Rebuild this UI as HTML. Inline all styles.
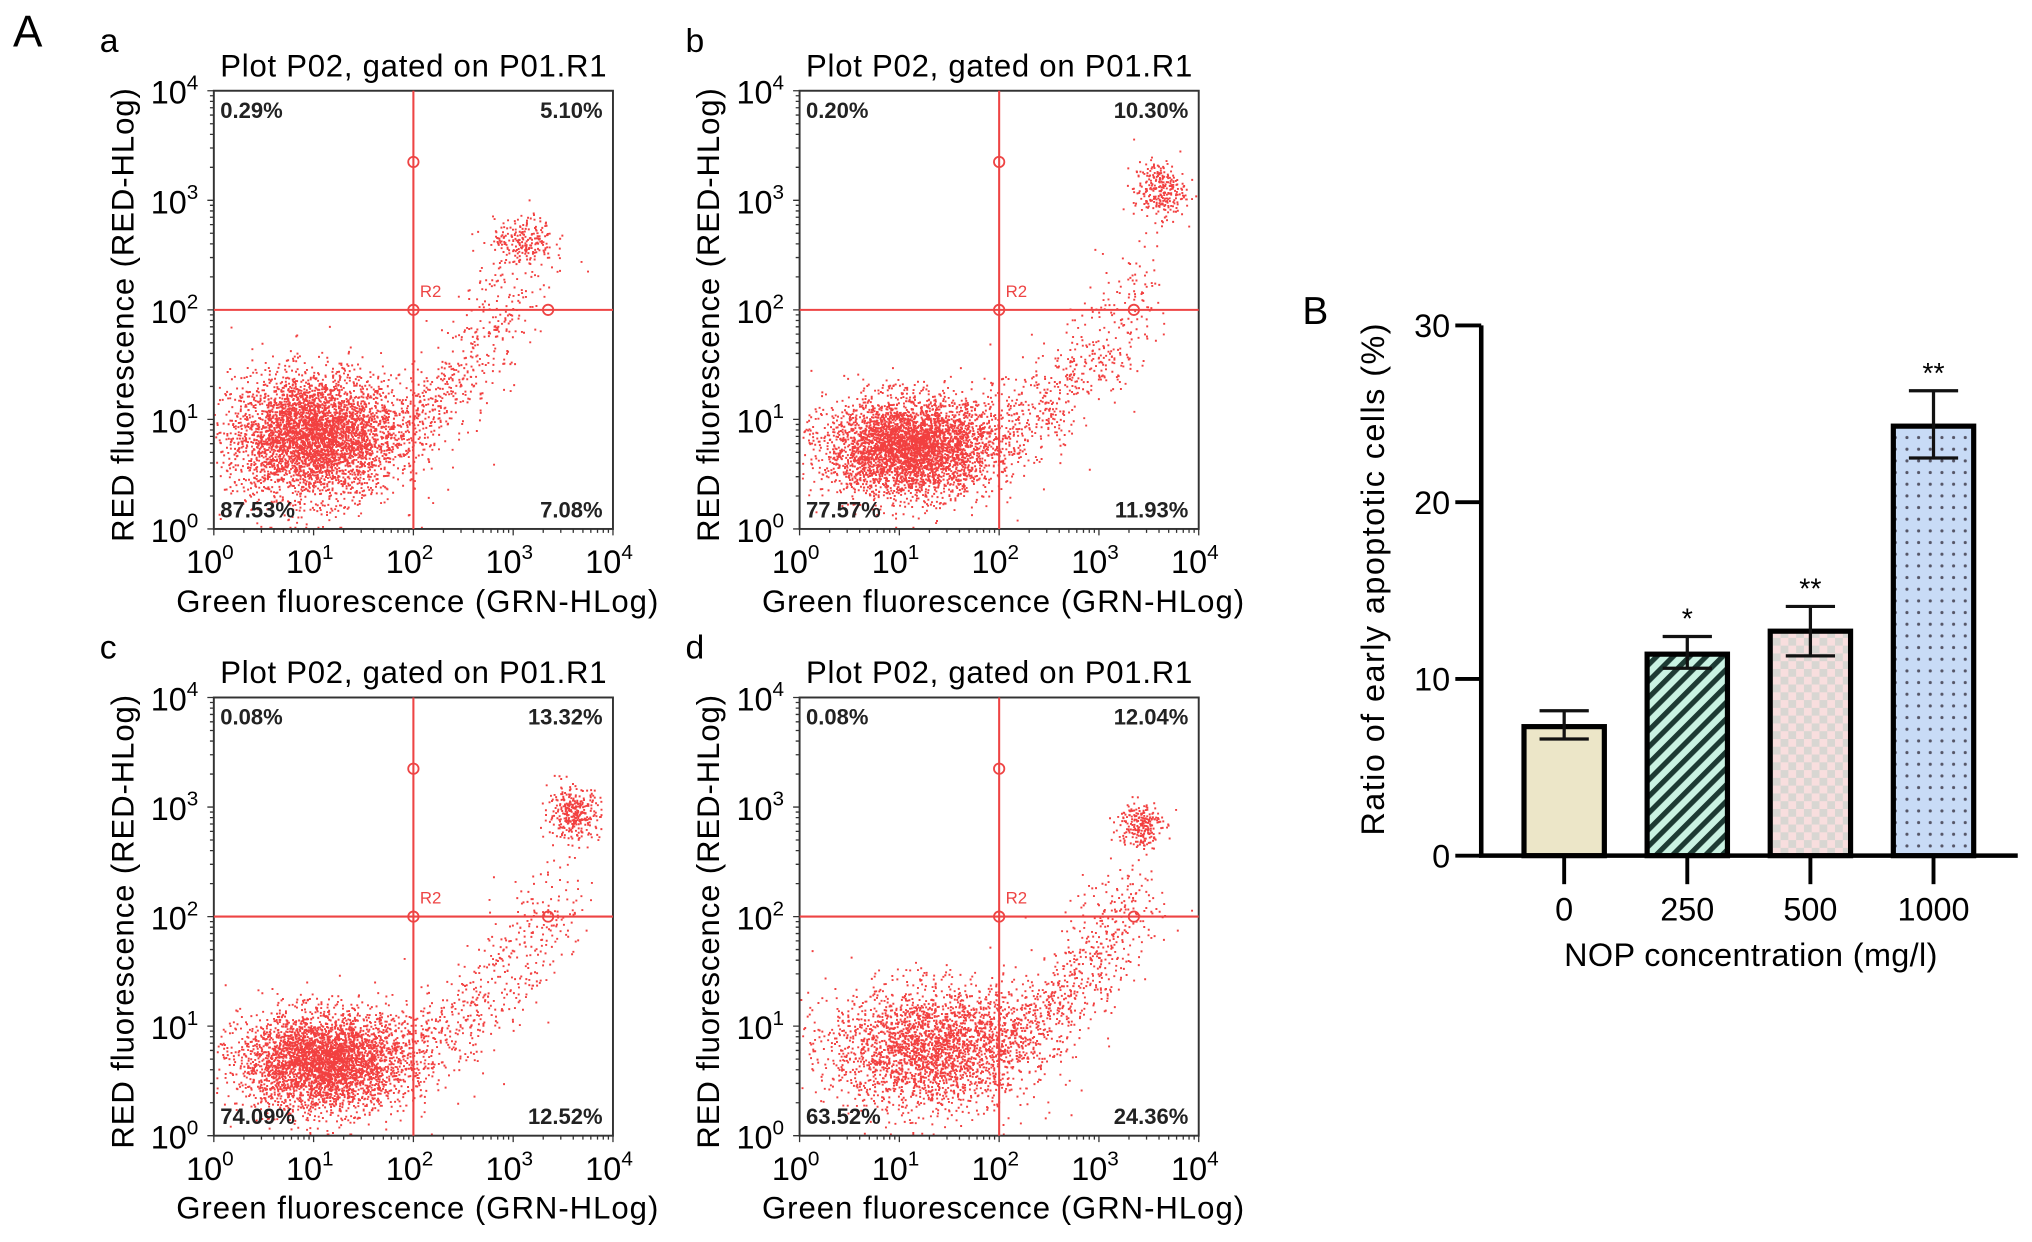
<!DOCTYPE html>
<html><head><meta charset="utf-8"><style>
html,body{margin:0;padding:0;background:#fff;}
svg{display:block;font-family:"Liberation Sans",Arial,sans-serif;}
</style></head><body>
<svg id="fig" width="2032" height="1242" viewBox="0 0 1568 958" preserveAspectRatio="none" xmlns="http://www.w3.org/2000/svg">
<defs>
<pattern id="hatch" patternUnits="userSpaceOnUse" width="9" height="9" patternTransform="rotate(45)">
<rect width="9" height="9" fill="#c9f2e2"/><rect width="4" height="9" fill="#1d3a33"/></pattern>
<pattern id="check" patternUnits="userSpaceOnUse" width="12" height="12">
<rect width="12" height="12" fill="#f8dede"/><rect width="6" height="6" fill="#d8d6d2"/><rect x="6" y="6" width="6" height="6" fill="#d8d6d2"/></pattern>
<pattern id="dots" patternUnits="userSpaceOnUse" width="9" height="9">
<rect width="9" height="9" fill="#c8dbf6"/><circle cx="4.5" cy="4.5" r="1.2" fill="#556"/></pattern>
</defs>
<g id="flow"></g>
<g id="bars"></g>
<text x="10" y="36" font-size="34">A</text>
<text x="1005" y="250" font-size="30">B</text>
</svg>
<script>
// ---- flow cytometry data ----
const panelIds = ['a','b','c','d'];
const quadTL = ['0.29%','0.20%','0.08%','0.08%'];
const quadTR = ['5.10%','10.30%','13.32%','12.04%'];
const quadBL = ['87.53%','77.57%','74.09%','63.52%'];
const quadBR = ['7.08%','11.93%','12.52%','24.36%'];
// clusters per panel: [cx, cy, sx, sy, count] in log10 units
const mainClusters = [[1.0,0.85,0.42,0.28,4200],[1.1,0.75,0.42,0.22,4000],[1.1,0.68,0.42,0.22,3800],[1.3,0.8,0.5,0.28,2600]];
const tailStart = [[1.8,1.0],[1.8,0.9],[1.8,0.85],[1.9,0.95]];
const tailEnd = [[3.2,2.7],[3.4,2.2],[3.4,2.2],[3.4,2.3]];
const tailCounts = [550,600,550,750];
const upperClusters = [[3.1,2.65,0.15,0.1,180],[3.6,3.1,0.13,0.13,280],[3.6,2.95,0.13,0.12,330],[3.4,2.85,0.11,0.11,230]];
const gateX = 2, gateY = 2;
const boxes = [[165,70],[617,70],[165,538],[617,538]];
const BW=308, BH=338;

const NS='http://www.w3.org/2000/svg';
function mk(tag, attrs, parent){const e=document.createElementNS(NS,tag);for(const k in attrs)e.setAttribute(k,attrs[k]);parent.appendChild(e);return e;}
let seed=12345;function rnd(){seed=(seed*1103515245+12345)%2147483648;return seed/2147483648;}
function gauss(){let u=rnd()||1e-6,v=rnd();return Math.sqrt(-2*Math.log(u))*Math.cos(2*Math.PI*v);}

const flow=document.getElementById('flow');
panelIds.forEach((id,i)=>{
  const [bx,by]=boxes[i];
  const xs=v=>bx+v/4*BW, ys=v=>by+BH-v/4*BH;
  const g=mk('g',{},flow);
  
  
  const lab=mk('text',{x:bx-88,y:by-30,'font-size':26},g); lab.textContent=id;
  
  
  const t=mk('text',{x:bx+BW/2,y:by-11,'font-size':24,'text-anchor':'middle',textLength:298},g); t.textContent='Plot P02, gated on P01.R1';
  
  
  let d='';
  function dot(x,y){if(x<0||x>4||y<0||y>4)return;const px=xs(x),py=ys(y);d+='M'+px.toFixed(1)+' '+py.toFixed(1)+'h1.5v1.5h-1.5z';}
  const m=mainClusters[i];for(let k=0;k<m[4];k++)dot(m[0]+gauss()*m[2],Math.max(0.02,m[1]+gauss()*m[3]));
  const s=tailStart[i],e=tailEnd[i];for(let k=0;k<tailCounts[i];k++){const f=rnd();dot(s[0]+(e[0]-s[0])*f+gauss()*0.2,s[1]+(e[1]-s[1])*f*f+gauss()*0.2);}
  const u=upperClusters[i];for(let k=0;k<u[4];k++)dot(u[0]+gauss()*u[2],u[1]+gauss()*u[3]);
  const pts=mk('path',{d:d,fill:'#f01e1e','fill-opacity':0.85},g);
  
  
  const r=mk('rect',{x:bx,y:by,width:BW,height:BH,fill:'none',stroke:'#333','stroke-width':1.5},g);
  
  
  const gv=mk('line',{x1:xs(gateX),x2:xs(gateX),y1:by,y2:by+BH,stroke:'#ee4444','stroke-width':1.6},g);
  
  
  const gh=mk('line',{x1:bx,x2:bx+BW,y1:ys(gateY),y2:ys(gateY),stroke:'#ee4444','stroke-width':1.6},g);
  
  
  [[gateX,3.35],[gateX,gateY],[3.35,gateY]].forEach(p=>{const c=mk('circle',{cx:xs(p[0]),cy:ys(p[1]),r:4,fill:'none',stroke:'#ee4444','stroke-width':1.4},g);
    
    });
  const r2=mk('text',{x:xs(gateX)+5,y:ys(gateY)-10,'font-size':13,fill:'#ee4444'},g);r2.textContent='R2';
  
  
  [[quadTL[i],bx+5,by+21,'start'],[quadTR[i],bx+BW-8,by+21,'end'],[quadBL[i],bx+5,by+BH-9,'start'],[quadBR[i],bx+BW-8,by+BH-9,'end']].forEach(q=>{
    const tq=mk('text',{x:q[1],y:q[2],'font-size':17,'font-weight':'bold',fill:'#222','text-anchor':q[3]},g);tq.textContent=q[0];
    
    });
  let tk='';
  for(let dec=0;dec<4;dec++)for(let k=1;k<10;k++){const v=dec+Math.log10(k);const L=k==1?5:3;
    tk+='M'+xs(v)+' '+(by+BH)+'v'+L+'M'+bx+' '+ys(v)+'h-'+L;}
  tk+='M'+xs(4)+' '+(by+BH)+'v5M'+bx+' '+ys(4)+'h-5';
  mk('path',{d:tk,stroke:'#333','stroke-width':1},g);
  for(let dec=0;dec<=4;dec++){
    const tx=mk('text',{x:xs(dec)-3,y:by+BH+34,'font-size':25,'text-anchor':'middle'},g);
    tx.innerHTML='10<tspan dy="-11" font-size="16">'+dec+'</tspan>';
    
    
    const ty=mk('text',{x:bx-12,y:ys(dec)+10,'font-size':25,'text-anchor':'end'},g);
    ty.innerHTML='10<tspan dy="-11" font-size="16">'+dec+'</tspan>';
    
    
  }
  const xl=mk('text',{x:bx+BW/2+3,y:by+BH+64,'font-size':24,'text-anchor':'middle',textLength:372},g);xl.textContent='Green fluorescence (GRN-HLog)';
  
  
  const yl=mk('text',{x:0,y:0,'font-size':24,'text-anchor':'middle',textLength:350,transform:'translate('+(bx-62)+','+(by+BH/2+4)+') rotate(-90)'},g);yl.textContent='RED fluorescence (RED-HLog)';
  
  
});

// ---- bar chart data ----
const categories = ['0','250','500','1000'];
const means = [7.3, 11.4, 12.7, 24.3];
const errLow = [6.6, 10.6, 11.3, 22.5];
const errHigh = [8.2, 12.4, 14.1, 26.3];
const stars = ['', '*', '**', '**'];
const yTicks = [0,10,20,30];
const fills = ['#ece6c8','url(#hatch)','url(#check)','url(#dots)'];

const bars=document.getElementById('bars');
const AX=1143, AY0=660, AY1=251, XEND=1557;
const yS=v=>AY0-(v/30)*(AY0-AY1);
const xC=i=>1207+i*95;
const BWID=62;
categories.forEach((c,i)=>{
  const b=mk('rect',{x:xC(i)-BWID/2,y:yS(means[i]),width:BWID,height:AY0-yS(means[i]),fill:fills[i],stroke:'#000','stroke-width':4},bars);
  
  
  const e=mk('path',{d:'M'+xC(i)+' '+yS(errLow[i])+'V'+yS(errHigh[i])+'M'+(xC(i)-19)+' '+yS(errHigh[i])+'h38M'+(xC(i)-19)+' '+yS(errLow[i])+'h38',stroke:'#111','stroke-width':2.5,fill:'none'},bars);
  
  
  if(stars[i]){const s=mk('text',{x:xC(i),y:yS(errHigh[i])-6,'font-size':22,'text-anchor':'middle'},bars);s.textContent=stars[i];
    
    }
  const t=mk('text',{x:xC(i),y:710,'font-size':25,'text-anchor':'middle'},bars);t.textContent=c;
  
  
  mk('line',{x1:xC(i),x2:xC(i),y1:AY0,y2:AY0+22,stroke:'#000','stroke-width':3},bars);
});
mk('path',{d:'M'+AX+' '+AY1+'V'+AY0+'H'+XEND,stroke:'#000','stroke-width':3.5,fill:'none'},bars);
yTicks.forEach(v=>{
  mk('line',{x1:AX-20,x2:AX,y1:yS(v),y2:yS(v),stroke:'#000','stroke-width':3},bars);
  const t=mk('text',{x:AX-24,y:yS(v)+9,'font-size':25,'text-anchor':'end'},bars);t.textContent=v;
  
  
});
const bx=mk('text',{x:1351,y:745,'font-size':25,'text-anchor':'middle',textLength:288},bars);bx.textContent='NOP concentration (mg/l)';


const by2=mk('text',{x:0,y:0,'font-size':25,'text-anchor':'middle',textLength:395,transform:'translate(1068,447) rotate(-90)'},bars);by2.textContent='Ratio of early apoptotic cells (%)';


</script>
</body></html>
